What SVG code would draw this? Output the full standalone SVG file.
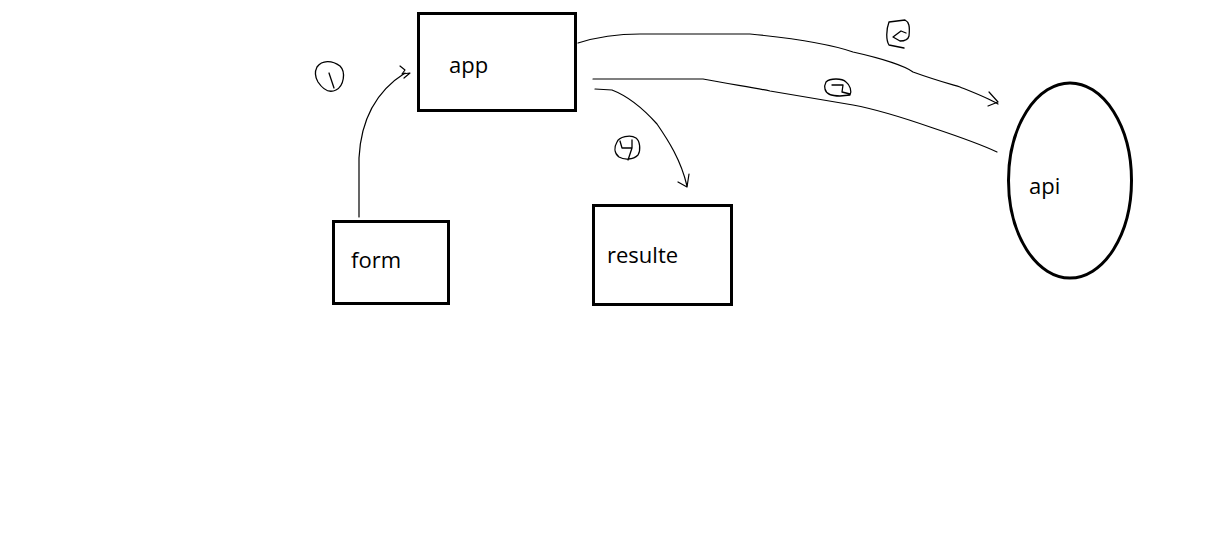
<svg xmlns="http://www.w3.org/2000/svg" width="1223" height="557" viewBox="0 0 1223 557">
  <style>
    .box { fill: #ffffff; stroke: #000000; stroke-width: 3; }
    .lbl { font-family: "Open Sans", "Liberation Sans", sans-serif; font-size: 22px; fill: #000000; }
    .wire { fill: none; stroke: #000000; stroke-width: 1.2; stroke-linecap: round; stroke-linejoin: round; }
    .mark { fill: none; stroke: #000000; stroke-width: 1.3; stroke-linecap: round; stroke-linejoin: round; }
  </style>
  <rect width="1223" height="557" fill="#ffffff"/>

  <g id="connectors">
    <!-- 1: form -> app -->
    <path class="wire" d="M359,217 L359,158 C361,118 378,90 405,73"/>
    <path class="wire" d="M400,66 L405,70 L402,74 L410,73 L404,78"/>
    <!-- 2: app -> api -->
    <path class="wire" d="M578,43 C600,36 620,34 640,34 L750,34 C790,38 830,44 853,52 C880,58 905,66 913,72 C935,80 950,84 960,87 C975,93 988,98 998,104"/>
    <path class="wire" d="M989,92 L998,102 L988,106"/>
    <!-- 3: app -> api (lower) -->
    <path class="wire" d="M593,79 L703,79 C730,84 755,88 770,91 C800,96 830,101 853,105 C880,110 910,120 933,128 C960,137 980,144 997,152"/>
    <!-- 4: app -> resulte -->
    <path class="wire" d="M595,89 L612,90 C625,95 640,105 657,124 C668,140 681,160 687,186"/>
    <path class="wire" d="M678,182 L687,187 L689,174"/>
  </g>

  <g id="step-marks">
    <path class="mark" d="M317,67 C322,60 332,60 340,66 C346,72 344,86 336,90 C328,94 322,88 318,82 C315,77 315,71 317,67 Z M329,73 L334,88"/>
    <path class="mark" d="M889,22 L905,20 C909,22 910,26 909,36 C908,40 904,41 900,41 L893,37 L901,31 L906,33 M889,22 C886,30 886,40 889,45 L904,48"/>
    <path class="mark" d="M826,82 C830,78 842,78 846,82 C850,85 852,91 850,95 L840,96 C832,96 826,94 825,89 C824,86 825,84 826,82 Z M832,85 L843,85 L842,92 L850,94"/>
    <path class="mark" d="M617,142 C619,137 630,134 636,138 C640,141 641,150 638,155 C633,160 624,160 619,157 C614,153 614,147 617,142 Z M620,141 L622,148 L632,148 L632,140 M632,148 L628,160"/>
  </g>

  <g id="node-app">
    <rect class="box" x="418.5" y="13.5" width="157" height="97"/>
    <text class="lbl" x="449" y="73">app</text>
  </g>

  <g id="node-form">
    <rect class="box" x="333.5" y="221.5" width="115" height="82"/>
    <text class="lbl" x="351" y="268">form</text>
  </g>

  <g id="node-resulte">
    <rect class="box" x="593.5" y="205.5" width="138" height="99"/>
    <text class="lbl" x="607" y="263">resulte</text>
  </g>

  <g id="node-api">
    <ellipse class="box" cx="1070" cy="180.5" rx="61.5" ry="97.5"/>
    <text class="lbl" x="1029" y="194">api</text>
  </g>
</svg>
